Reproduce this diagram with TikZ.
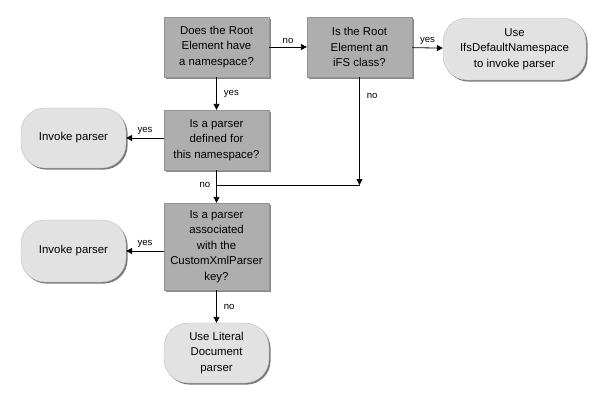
\documentclass[tikz,border=0pt]{standalone}
\usepackage{fontspec}
\setmainfont{Liberation Sans}
\usetikzlibrary{arrows.meta,shadows}
\definecolor{boxgray}{HTML}{AEAEAE}
\definecolor{termgray}{HTML}{E2E2E2}
\definecolor{shadowgray}{HTML}{6A6A6A}
\begin{document}
\begin{tikzpicture}[x=1pt,y=-1pt,
  decision/.style={rectangle, fill=boxgray, draw=boxgray!85!black, line width=0.3pt,
    minimum width=105pt, minimum height=60pt, inner sep=2pt, align=center,
    font=\fontsize{11.4}{15.5}\selectfont,
    drop shadow={shadow xshift=1.6pt, shadow yshift=-1.6pt, fill=shadowgray, opacity=0.8}},
  terminal/.style={rectangle, rounded corners=24pt, fill=termgray, draw=termgray!80!black, line width=0.3pt,
    minimum width=105pt, minimum height=60pt, inner sep=2pt, align=center,
    font=\fontsize{11.4}{15.5}\selectfont,
    drop shadow={shadow xshift=1.6pt, shadow yshift=-1.6pt, fill=shadowgray, opacity=0.9}},
  lbl/.style={font=\fontsize{9.6}{11}\selectfont, inner sep=3pt},
  arr/.style={-{Triangle[length=6pt,width=6pt]}, line width=0.8pt},
  ln/.style={line width=0.8pt}]
\useasboundingbox (0,0) rectangle (600,415);
\node[decision] (A) at (216.5,47) {Does the Root\\Element have\\a namespace?};
\node[decision] (B) at (359.5,47) {Is the Root\\Element an\\iFS class?};
\node[terminal, minimum width=143pt, minimum height=62pt] (C) at (514.5,49) {Use\\IfsDefaultNamespace\\to invoke parser};
\node[decision] (D) at (216.5,140) {Is a parser\\defined for\\this namespace?};
\node[terminal] (E) at (73.5,138) {Invoke parser};
\node[decision, minimum height=87pt] (F) at (216.5,246.5) {Is a parser\\associated\\with the\\CustomXmlParser\\key?};
\node[terminal, minimum height=62pt] (G) at (73.5,251) {Invoke parser};
\node[terminal] (H) at (216.5,353) {Use Literal\\Document\\parser};
\coordinate (j) at (216.5,185);
\coordinate (k) at (359.5,185);
\draw[arr] (A) -- node[lbl, above] {no} (B);
\draw[arr] (B) -- node[lbl, above] {yes} (C);
\draw[arr] (A) -- node[lbl, right, xshift=4pt] {yes} (D);
\draw[arr] (D.west |- E.east) -- node[lbl, above] {yes} (E);
\draw[arr] (B) -- node[lbl, pos=0.17, right, xshift=4pt] {no} (k);
\draw[ln] (k) -- (j);
\draw[arr] (D) -- (F);
\node[lbl, left, xshift=-3pt] (nol) at (j) {no};
\draw[arr] (F.west |- G.east) -- node[lbl, above] {yes} (G);
\draw[arr] (F) -- node[lbl, right, xshift=4pt] {no} (H);
\end{tikzpicture}
\end{document}
